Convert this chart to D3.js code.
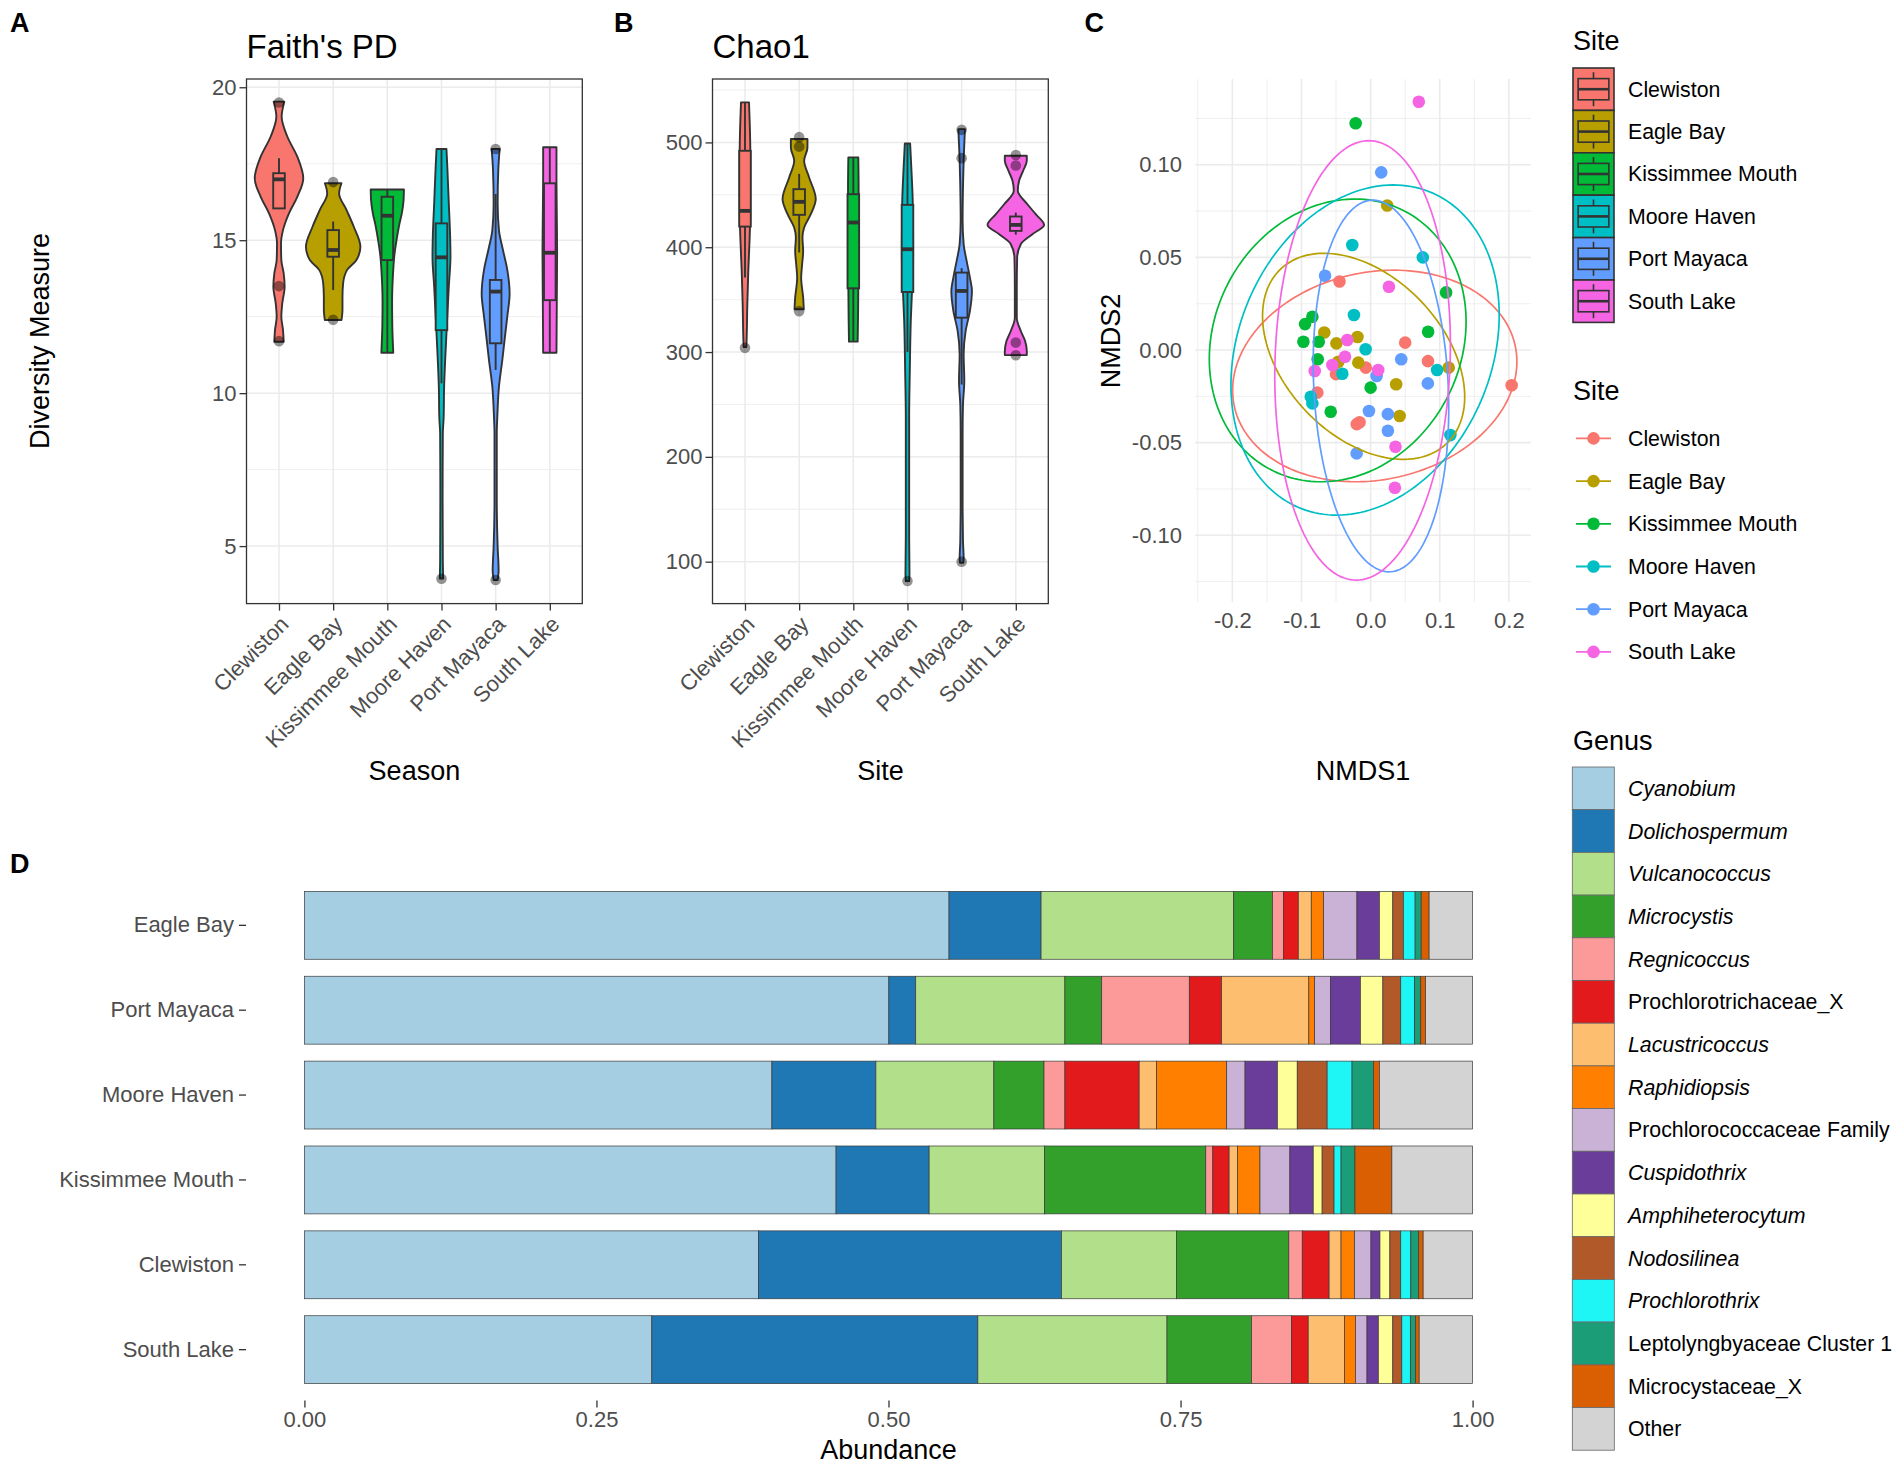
<!DOCTYPE html>
<html><head><meta charset="utf-8">
<script src="https://cdn.jsdelivr.net/npm/d3@7"></script>
<style>body{margin:0;background:#fff} text{font-family:"Liberation Sans",Arial,Helvetica,sans-serif}</style>
</head><body>
<svg id="c" width="1902" height="1466" xmlns="http://www.w3.org/2000/svg"></svg>
<script>
// ---------------- DATA ----------------
const sites = ["Clewiston","Eagle Bay","Kissimmee Mouth","Moore Haven","Port Mayaca","South Lake"];
const siteColors = ["#F8766D","#B79F00","#00BA38","#00BFC4","#619CFF","#F564E3"];

// Faith's PD violin outlines: [value, half-width (category units)]
const faithProfiles = [
  [[19.53,0.098],[19.04,0.049],[18.39,0.153],[17.73,0.338],[17.02,0.448],[16.42,0.338],[15.88,0.184],[15.33,0.074],[14.90,0.037],[14.35,0.043],[13.92,0.086],[13.48,0.104],[12.94,0.061],[12.50,0.043],[12.06,0.074],[11.68,0.086]],
  [[16.86,0.153],[16.53,0.110],[15.99,0.246],[15.44,0.381],[14.79,0.503],[14.35,0.430],[14.03,0.258],[13.59,0.184],[13.15,0.172],[12.72,0.172],[12.39,0.153]],
  [[16.66,0.307],[16.30,0.300],[15.90,0.270],[15.50,0.220],[15.00,0.170],[14.50,0.130],[13.90,0.105],[13.00,0.088],[12.20,0.092],[11.32,0.110]],
  [[17.98,0.092],[17.30,0.110],[16.21,0.135],[15.12,0.160],[14.46,0.166],[13.48,0.135],[12.39,0.104],[11.30,0.074],[10.21,0.049],[9.20,0.040],[8.68,0.025],[6.50,0.021],[4.54,0.025],[3.94,0.031]],
  [[17.98,0.074],[17.30,0.049],[16.21,0.037],[15.33,0.061],[14.68,0.135],[14.03,0.215],[13.26,0.258],[12.50,0.215],[11.85,0.172],[11.08,0.123],[10.21,0.061],[9.23,0.031],[8.68,0.021],[6.50,0.021],[4.98,0.037],[4.21,0.055],[3.89,0.037]],
  [[18.04,0.123],[17.00,0.123],[16.00,0.128],[14.57,0.135],[13.00,0.129],[11.32,0.123]]
];
// [lower whisker, Q1, median, Q3, upper whisker]
const faithBoxes = [
  [16.04,16.04,16.99,17.19,17.68],
  [13.37,14.46,14.68,15.33,15.61],
  [11.32,14.35,15.80,16.42,16.66],
  [10.32,12.06,14.44,15.55,17.98],
  [10.76,11.63,13.32,13.70,16.51],
  [11.32,13.04,14.59,16.86,18.04]
];
const faithOutliers = [[19.5,13.5,11.7],[16.9,12.4],[],[3.93],[17.98,3.89],[]];
const faithTicks = [5,10,15,20];
const faithMinor = [7.5,12.5,17.5];

const chaoProfiles = [
  [[538.2,0.074],[520.7,0.086],[492,0.098],[457,0.098],[434.7,0.098],[409,0.086],[377.4,0.061],[345.5,0.043],[313.7,0.031],[304.8,0.025]],
  [[503.2,0.153],[495,0.153],[482.5,0.092],[466.6,0.184],[445.9,0.307],[431.5,0.215],[418.8,0.092],[409.2,0.061],[396.5,0.074],[383.8,0.055],[371,0.037],[351.9,0.074],[340.8,0.086]],
  [[485.7,0.092],[457,0.098],[425,0.098],[393,0.098],[361.5,0.092],[329.6,0.086],[309.9,0.080]],
  [[499,0.049],[472.9,0.074],[441,0.098],[393.3,0.104],[361.5,0.086],[329.6,0.061],[281.8,0.043],[237.3,0.031],[189.8,0.031],[126,0.031],[88,0.037],[81.5,0.031]],
  [[512.7,0.061],[498.4,0.049],[482.5,0.037],[457,0.025],[425.2,0.018],[402.9,0.037],[387,0.092],[371,0.153],[358.3,0.190],[339.2,0.153],[320.1,0.074],[297.8,0.037],[272.3,0.049],[250,0.025],[221.7,0.018],[158,0.018],[119.7,0.025],[103.8,0.037],[99,0.031]],
  [[487.3,0.203],[482.5,0.203],[472.9,0.135],[463.4,0.061],[453.8,0.037],[441,0.215],[431.5,0.368],[421.3,0.522],[412.4,0.307],[402.9,0.092],[390.1,0.025],[361.5,0.018],[332.8,0.018],[320.1,0.092],[310.5,0.172],[301,0.203],[297.1,0.203]]
];
const chaoBoxes = [
  [371,419.7,434.7,492,538.2],
  [395,430.9,443.3,455.4,470],
  [310,360.8,423.6,450.6,485.7],
  [300,357.3,398.1,440.4,499],
  [269,332.8,358.3,375.8,380],
  [412,415.6,421.3,429.3,433]
];
const chaoOutliers = [[304],[505,496,339],[],[81.5],[512,485,100],[488,478,309,297]];
const chaoTicks = [100,200,300,400,500];
const chaoMinor = [150,250,350,450,550];

// NMDS ordination: points [NMDS1, NMDS2] per site
const nmdsPoints = [
  [[-0.045,0.037],[0.050,0.004],[0.083,-0.006],[0.204,-0.019],[-0.007,-0.0095],[-0.050,-0.013],[-0.077,-0.023],[-0.020,-0.040],[-0.016,-0.039]],
  [[0.024,0.078],[-0.067,0.0095],[-0.019,0.007],[-0.0495,0.0036],[-0.0466,-0.0063],[-0.0178,-0.0068],[0.037,-0.0185],[0.113,-0.0095],[0.042,-0.0356]],
  [[-0.0216,0.1224],[0.1092,0.0311],[0.0832,0.0099],[-0.0948,0.014],[-0.0842,0.018],[-0.0972,0.0045],[-0.075,0.0045],[-0.0765,-0.005],[0.0,-0.0203],[-0.0577,-0.0333]],
  [[-0.0265,0.0567],[0.0755,0.05],[-0.0241,0.0189],[-0.0072,0.0004],[0.0962,-0.0108],[-0.0409,-0.0128],[-0.0866,-0.0252],[-0.0842,-0.0288],[0.1154,-0.0459]],
  [[0.0154,0.0959],[-0.0659,0.0401],[0.0443,-0.005],[0.0828,-0.018],[0.0087,-0.014],[-0.0024,-0.0329],[0.025,-0.0346],[0.025,-0.0436],[-0.0202,-0.0558]],
  [[0.0697,0.134],[0.0265,0.0342],[-0.0337,0.0054],[-0.037,-0.0036],[-0.0553,-0.0081],[-0.0808,-0.0113],[0.011,-0.0108],[0.036,-0.0522],[0.0351,-0.0743]]
];
// ellipse per site: [centre x, centre y, half-extent x, half-extent y, correlation]
const nmdsEllipses = [
  [0.006,-0.014,0.2056,0.0571,0.135],
  [-0.0101,-0.0034,0.1462,0.0556,-0.392],
  [-0.0476,0.0052,0.1857,0.0763,0.132],
  [-0.008,0.0,0.194,0.0891,0.212],
  [0.015,-0.0194,0.098,0.1003,-0.12],
  [-0.0116,-0.0056,0.127,0.1186,0.072]
];
const nmdsXTicks = [-0.2,-0.1,0.0,0.1,0.2];
const nmdsXMinor = [-0.25,-0.15,-0.05,0.05,0.15];
const nmdsYTicks = [-0.10,-0.05,0.00,0.05,0.10];
const nmdsYMinor = [-0.125,-0.075,-0.025,0.025,0.075,0.125];

// Relative abundance
const genera = ["Cyanobium","Dolichospermum","Vulcanococcus","Microcystis","Regnicoccus","Prochlorotrichaceae_X","Lacustricoccus","Raphidiopsis","Prochlorococcaceae Family","Cuspidothrix","Amphiheterocytum","Nodosilinea","Prochlorothrix","Leptolyngbyaceae Cluster 1","Microcystaceae_X","Other"];
const genusColors = ["#A6CEE3","#1F78B4","#B2DF8A","#33A02C","#FB9A99","#E31A1C","#FDBF6F","#FF7F00","#CAB2D6","#6A3D9A","#FFFF99","#B15928","#1EF6F6","#1B9E77","#D95F02","#D3D3D3"];
const genusItalic = [true,true,true,true,true,false,true,true,false,true,true,true,true,false,false,false];
const barSites = ["Eagle Bay","Port Mayaca","Moore Haven","Kissimmee Mouth","Clewiston","South Lake"];
const abundance = [
  [0.5518,0.0788,0.1649,0.0332,0.0093,0.0128,0.0111,0.0106,0.0285,0.0192,0.0115,0.0090,0.0101,0.0052,0.0068,0.0372],
  [0.5003,0.0230,0.1277,0.0315,0.0750,0.0277,0.0746,0.0050,0.0137,0.0255,0.0192,0.0153,0.0119,0.0052,0.0042,0.0402],
  [0.4002,0.0890,0.1010,0.0429,0.0179,0.0636,0.0149,0.0600,0.0157,0.0277,0.0170,0.0256,0.0213,0.0183,0.0051,0.0798],
  [0.4551,0.0797,0.0988,0.1380,0.0060,0.0140,0.0072,0.0192,0.0256,0.0200,0.0076,0.0102,0.0060,0.0119,0.0316,0.0691],
  [0.3888,0.2593,0.0984,0.0962,0.0115,0.0230,0.0102,0.0115,0.0141,0.0077,0.0085,0.0093,0.0086,0.0068,0.0038,0.0423],
  [0.2974,0.2791,0.1619,0.0724,0.0341,0.0144,0.0311,0.0093,0.0099,0.0097,0.0124,0.0077,0.0073,0.0046,0.0030,0.0457]
];
const abundanceTicks = [0,0.25,0.5,0.75,1];

// ---------------- DRAWING ----------------
const svg = d3.select("#c");
const DARK = "#333333", TICKTXT = "#4D4D4D", GRID = "#EBEBEB";

function label(g, x, y, s, size, o = {}) {
  const t = g.append("text").attr("x", x).attr("y", y).text(s)
    .attr("font-size", size).attr("fill", o.fill || "#000");
  if (o.anchor) t.attr("text-anchor", o.anchor);
  if (o.weight) t.attr("font-weight", o.weight);
  if (o.italic) t.attr("font-style", "italic");
  if (o.dy) t.attr("dy", o.dy);
  if (o.transform) t.attr("transform", o.transform);
  return t;
}

function violinPanel(cfg) {
  const { x0, x1, y0, y1, domain, ticks, minor, profiles, boxes, outliers } = cfg;
  const g = svg.append("g");
  const x = d3.scalePoint().domain(sites).range([x0, x1]).padding(0.6);
  const step = x.step();
  const y = d3.scaleLinear().domain(domain).range([y1, y0]);
  // grid
  minor.forEach(v => g.append("line").attr("x1", x0).attr("x2", x1).attr("y1", y(v)).attr("y2", y(v))
    .attr("stroke", GRID).attr("stroke-width", 0.8));
  ticks.forEach(v => g.append("line").attr("x1", x0).attr("x2", x1).attr("y1", y(v)).attr("y2", y(v))
    .attr("stroke", GRID).attr("stroke-width", 1.5));
  sites.forEach(s => g.append("line").attr("x1", x(s)).attr("x2", x(s)).attr("y1", y0).attr("y2", y1)
    .attr("stroke", GRID).attr("stroke-width", 1.5));
  // violins
  profiles.forEach((p, i) => {
    const cx = x(sites[i]);
    const area = d3.area().curve(d3.curveMonotoneY)
      .y(d => y(d[0])).x0(d => cx - d[1] * step).x1(d => cx + d[1] * step);
    g.append("path").attr("d", area(p)).attr("fill", siteColors[i])
      .attr("stroke", DARK).attr("stroke-width", 1.9).attr("stroke-linejoin", "round");
  });
  // boxplots
  const bw = 0.107 * step;
  boxes.forEach((b, i) => {
    const cx = x(sites[i]);
    const bg = g.append("g").attr("stroke", DARK).attr("stroke-width", 1.9);
    bg.append("line").attr("x1", cx).attr("x2", cx).attr("y1", y(b[0])).attr("y2", y(b[1]));
    bg.append("line").attr("x1", cx).attr("x2", cx).attr("y1", y(b[3])).attr("y2", y(b[4]));
    bg.append("rect").attr("x", cx - bw).attr("width", 2 * bw).attr("y", y(b[3]))
      .attr("height", y(b[1]) - y(b[3])).attr("fill", siteColors[i]);
    bg.append("line").attr("x1", cx - bw).attr("x2", cx + bw).attr("y1", y(b[2])).attr("y2", y(b[2]))
      .attr("stroke-width", 3.8);
    outliers[i].forEach(v => g.append("circle").attr("cx", cx).attr("cy", y(v)).attr("r", 5.3)
      .attr("fill", "#000").attr("fill-opacity", 0.42));
  });
  // border
  g.append("rect").attr("x", x0).attr("y", y0).attr("width", x1 - x0).attr("height", y1 - y0)
    .attr("fill", "none").attr("stroke", DARK).attr("stroke-width", 1.3);
  // y axis
  const ya = g.append("g").attr("transform", `translate(${x0},0)`)
    .call(d3.axisLeft(y).tickValues(ticks).tickSize(7).tickPadding(3));
  ya.select(".domain").remove();
  ya.selectAll("line").attr("stroke", DARK).attr("stroke-width", 1.3);
  ya.selectAll("text").attr("font-size", 22).attr("fill", TICKTXT).attr("font-family", null);
  // x axis
  const xa = g.append("g").attr("transform", `translate(0,${y1})`)
    .call(d3.axisBottom(x).tickSize(7));
  xa.select(".domain").remove();
  xa.selectAll("line").attr("stroke", DARK).attr("stroke-width", 1.3);
  xa.selectAll("text").remove();
  sites.forEach(s => {
    const px = x(s) + 11, py = y1 + 10 + 12;
    label(g, px, py, s, 22, { anchor: "end", fill: TICKTXT, transform: `rotate(-45,${px},${py})` });
  });
  return g;
}

// Panel A
violinPanel({ x0: 246.5, x1: 582.3, y0: 79, y1: 603.6, domain: [3.12, 20.27],
  ticks: faithTicks, minor: faithMinor, profiles: faithProfiles, boxes: faithBoxes, outliers: faithOutliers });
label(svg, 246.5, 58, "Faith's PD", 33);
label(svg, 414.4, 780, "Season", 27, { anchor: "middle" });
label(svg, 40, 341, "Diversity Measure", 27, { anchor: "middle", dy: "0.35em", transform: "rotate(-90,40,341)" });
label(svg, 10, 31.5, "A", 27, { weight: "bold" });

// Panel B
violinPanel({ x0: 712.5, x1: 1048.3, y0: 79, y1: 603.6, domain: [60, 560.5],
  ticks: chaoTicks, minor: chaoMinor, profiles: chaoProfiles, boxes: chaoBoxes, outliers: chaoOutliers });
label(svg, 712.5, 58, "Chao1", 33);
label(svg, 880.4, 780, "Site", 27, { anchor: "middle" });
label(svg, 614, 31.5, "B", 27, { weight: "bold" });

// Panel C : NMDS
(function () {
  const X0 = 1195, X1 = 1531, Y0 = 79, Y1 = 602;
  const g = svg.append("g");
  const x = d3.scaleLinear().domain([-0.254, 0.232]).range([X0, X1]);
  const y = d3.scaleLinear().domain([-0.136, 0.1463]).range([Y1, Y0]);
  nmdsXMinor.forEach(v => g.append("line").attr("x1", x(v)).attr("x2", x(v)).attr("y1", Y0).attr("y2", Y1).attr("stroke", GRID).attr("stroke-width", 0.8));
  nmdsYMinor.forEach(v => g.append("line").attr("y1", y(v)).attr("y2", y(v)).attr("x1", X0).attr("x2", X1).attr("stroke", GRID).attr("stroke-width", 0.8));
  nmdsXTicks.forEach(v => g.append("line").attr("x1", x(v)).attr("x2", x(v)).attr("y1", Y0).attr("y2", Y1).attr("stroke", GRID).attr("stroke-width", 1.6));
  nmdsYTicks.forEach(v => g.append("line").attr("y1", y(v)).attr("y2", y(v)).attr("x1", X0).attr("x2", X1).attr("stroke", GRID).attr("stroke-width", 1.6));
  // points
  nmdsPoints.forEach((pts, i) => pts.forEach(p => g.append("circle").attr("cx", x(p[0])).attr("cy", y(p[1]))
    .attr("r", 6.3).attr("fill", siteColors[i])));
  // ellipses
  const line = d3.line().x(d => x(d[0])).y(d => y(d[1])).curve(d3.curveLinearClosed);
  nmdsEllipses.forEach((e, i) => {
    const [cx, cy, sx, sy, r] = e;
    const pts = d3.range(0, 360, 2).map(a => {
      const t = a * Math.PI / 180;
      return [cx + sx * Math.cos(t), cy + sy * (r * Math.cos(t) + Math.sqrt(1 - r * r) * Math.sin(t))];
    });
    g.append("path").attr("d", line(pts)).attr("fill", "none").attr("stroke", siteColors[i]).attr("stroke-width", 1.7);
  });
  // axes labels
  const ya = g.append("g").attr("transform", `translate(${X0 - 13},0)`)
    .call(d3.axisLeft(y).tickValues(nmdsYTicks).tickSize(0).tickPadding(0).tickFormat(d3.format(".2f")));
  ya.select(".domain").remove();
  ya.selectAll("text").attr("font-size", 22).attr("fill", TICKTXT).attr("font-family", null)
    .text(d => d3.format(".2f")(d).replace("−", "-"));
  const xa = g.append("g").attr("transform", `translate(0,${Y1 + 10})`)
    .call(d3.axisBottom(x).tickValues(nmdsXTicks).tickSize(0).tickPadding(0).tickFormat(d3.format(".1f")));
  xa.select(".domain").remove();
  xa.selectAll("text").attr("font-size", 22).attr("fill", TICKTXT).attr("font-family", null)
    .text(d => d3.format(".1f")(d).replace("−", "-"));
  label(svg, 1363, 780, "NMDS1", 27, { anchor: "middle" });
  label(svg, 1111, 341, "NMDS2", 27, { anchor: "middle", dy: "0.35em", transform: "rotate(-90,1111,341)" });
  label(svg, 1084.5, 31.5, "C", 27, { weight: "bold" });
})();

// Legends
(function () {
  const g = svg.append("g");
  const KX = 1573, KW = 41, LFS = 21.3;
  // Site legend (violin/box keys)
  label(g, 1573, 50, "Site", 27);
  sites.forEach((s, i) => {
    const ky = 68 + i * 42.4, kh = 42.4;
    g.append("rect").attr("x", KX).attr("y", ky).attr("width", KW).attr("height", kh)
      .attr("fill", siteColors[i]).attr("stroke", DARK).attr("stroke-width", 1.6);
    const k = g.append("g").attr("stroke", DARK).attr("stroke-width", 1.6);
    k.append("line").attr("x1", KX + KW / 2).attr("x2", KX + KW / 2).attr("y1", ky + kh * 0.1).attr("y2", ky + kh * 0.25);
    k.append("line").attr("x1", KX + KW / 2).attr("x2", KX + KW / 2).attr("y1", ky + kh * 0.75).attr("y2", ky + kh * 0.9);
    k.append("rect").attr("x", KX + KW * 0.125).attr("y", ky + kh * 0.25).attr("width", KW * 0.75).attr("height", kh * 0.5)
      .attr("fill", siteColors[i]);
    k.append("line").attr("x1", KX + KW * 0.125).attr("x2", KX + KW * 0.875).attr("y1", ky + kh / 2).attr("y2", ky + kh / 2).attr("stroke-width", 2.6);
    label(g, 1628, ky + kh / 2, s, LFS, { dy: "0.35em" });
  });
  // Site legend (points)
  label(g, 1573, 400, "Site", 27);
  sites.forEach((s, i) => {
    const cy = 438.4 + i * 42.7;
    g.append("line").attr("x1", 1576).attr("x2", 1611).attr("y1", cy).attr("y2", cy).attr("stroke", siteColors[i]).attr("stroke-width", 1.8);
    g.append("circle").attr("cx", 1593.5).attr("cy", cy).attr("r", 6.3).attr("fill", siteColors[i]);
    label(g, 1628, cy, s, LFS, { dy: "0.35em" });
  });
  // Genus legend
  label(g, 1573, 750, "Genus", 27);
  genera.forEach((s, i) => {
    const ky = 767 + i * 42.7;
    g.append("rect").attr("x", 1572.3).attr("y", ky).attr("width", 42).attr("height", 42.7)
      .attr("fill", genusColors[i]).attr("stroke", "#666").attr("stroke-width", 0.8);
    label(g, 1628, ky + 21.35, s, LFS, { dy: "0.35em", italic: genusItalic[i] });
  });
})();

// Panel D : stacked bars
(function () {
  const g = svg.append("g");
  const x = d3.scaleLinear().domain([-0.05, 1.05]).range([246, 1531]);
  const yb = d3.scaleBand().domain(barSites).range([874.4, 1400.6]).paddingInner(0.2).paddingOuter(0.2);
  const rows = barSites.map((s, i) => { const o = { site: s }; genera.forEach((gname, j) => o[gname] = abundance[i][j]); return o; });
  const series = d3.stack().keys(genera)(rows);
  series.forEach((ser, j) => {
    g.selectAll(null).data(ser).join("rect")
      .attr("x", d => x(d[0])).attr("width", d => x(d[1]) - x(d[0]))
      .attr("y", d => yb(d.data.site)).attr("height", yb.bandwidth())
      .attr("fill", genusColors[j]).attr("stroke", "#3a3a3a").attr("stroke-width", 0.7);
  });
  const ya = g.append("g").attr("transform", "translate(246,0)").call(d3.axisLeft(yb).tickSize(7).tickPadding(5));
  ya.select(".domain").remove();
  ya.selectAll("line").attr("stroke", DARK).attr("stroke-width", 1.3);
  ya.selectAll("text").attr("font-size", 22).attr("fill", TICKTXT).attr("font-family", null);
  const xa = g.append("g").attr("transform", "translate(0,1400.6)")
    .call(d3.axisBottom(x).tickValues(abundanceTicks).tickFormat(d3.format(".2f")).tickSize(7).tickPadding(4));
  xa.select(".domain").remove();
  xa.selectAll("line").attr("stroke", DARK).attr("stroke-width", 1.3);
  xa.selectAll("text").attr("font-size", 22).attr("fill", TICKTXT).attr("font-family", null);
  label(svg, 888.5, 1459, "Abundance", 27, { anchor: "middle" });
  label(svg, 10, 873, "D", 27, { weight: "bold" });
})();
</script>
</body></html>
